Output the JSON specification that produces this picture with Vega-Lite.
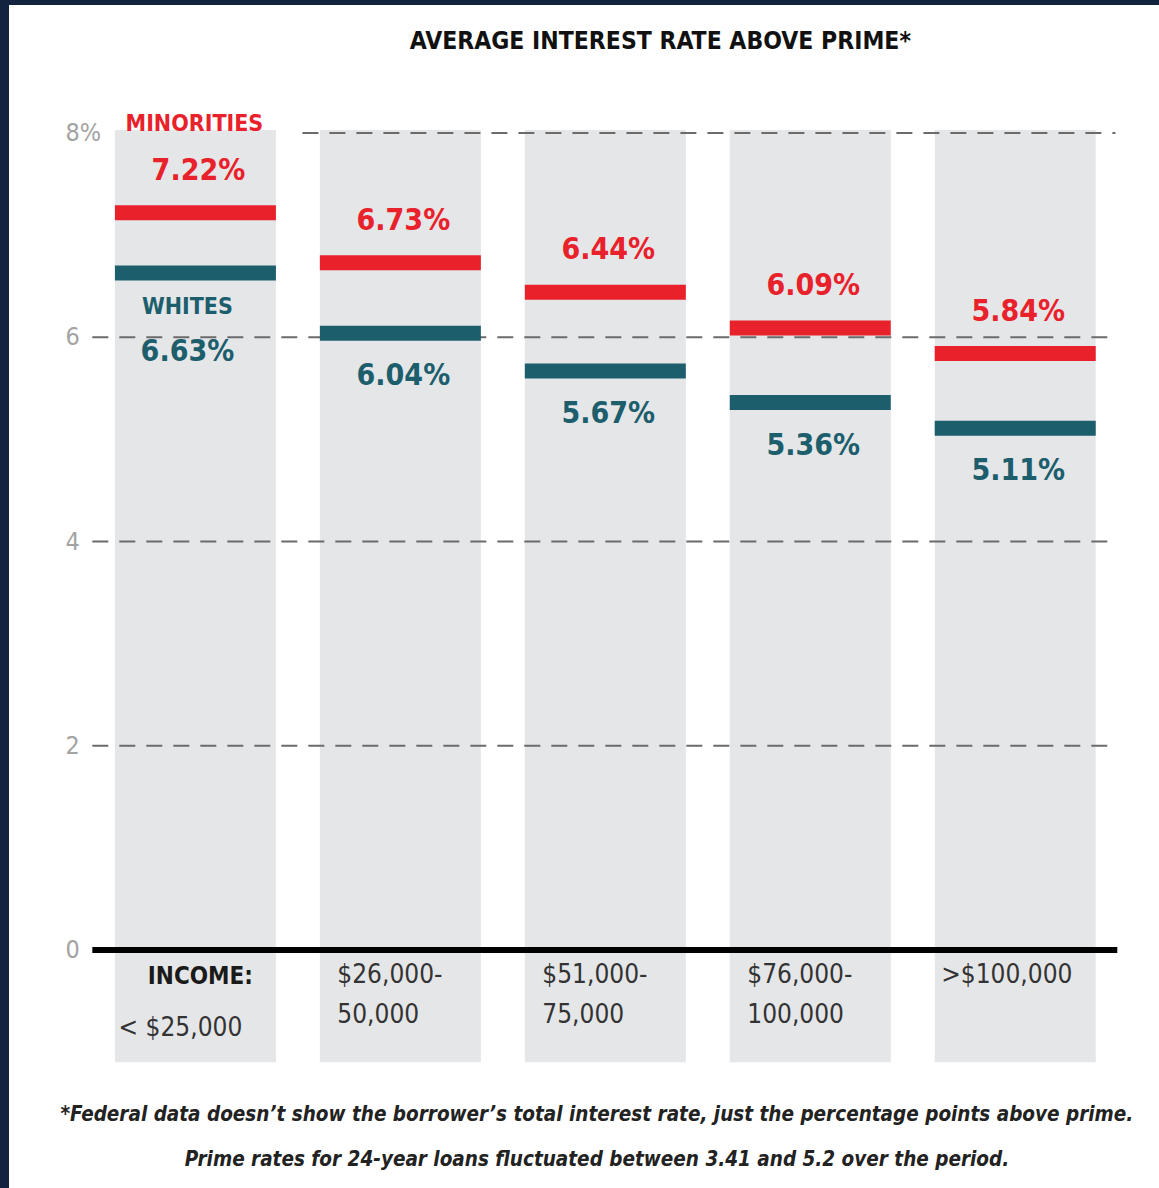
{
  "$schema": "https://vega.github.io/schema/vega-lite/v6.json",
  "width": 1150,
  "height": 1183,
  "autosize": {"type": "none"},
  "padding": {"left": 9, "top": 5, "right": 0, "bottom": 0},
  "background": "#13233f",
  "config": {"view": {"fill": "#ffffff", "stroke": null}, "font": "DejaVu Sans Condensed"},
  "datasets": {
    "rates": [
      {"income": "< $25,000", "idx": 1, "minorities": 7.22, "whites": 6.63, "minLabel": "7.22%", "whiteLabel": "6.63%"},
      {"income": "$26,000-\n50,000", "idx": 2, "minorities": 6.73, "whites": 6.04, "minLabel": "6.73%", "whiteLabel": "6.04%"},
      {"income": "$51,000-\n75,000", "idx": 3, "minorities": 6.44, "whites": 5.67, "minLabel": "6.44%", "whiteLabel": "5.67%"},
      {"income": "$76,000-\n100,000", "idx": 4, "minorities": 6.09, "whites": 5.36, "minLabel": "6.09%", "whiteLabel": "5.36%"},
      {"income": ">$100,000", "idx": 5, "minorities": 5.84, "whites": 5.11, "minLabel": "5.84%", "whiteLabel": "5.11%"}
    ],
    "grid": [{"v": 2}, {"v": 4}, {"v": 6}],
    "yticks": [{"v": 0, "label": "0"}, {"v": 2, "label": "2"}, {"v": 4, "label": "4"}, {"v": 6, "label": "6"}, {"v": 8, "label": "8%"}]
  },
  "layer": [
    {
      "data": {"name": "rates"},
      "mark": {"type": "bar", "width": 161, "color": "#e5e6e8"},
      "encoding": {
        "x": {"field": "idx", "type": "quantitative", "scale": {"domain": [0.11487, 5.6771], "nice": false, "zero": false}, "axis": null},
        "y": {"datum": 8.03, "type": "quantitative", "scale": {"domain": [-2.3305, 9.2534], "nice": false, "zero": false}, "axis": null},
        "y2": {"datum": -1.1}
      }
    },
    {
      "data": {"name": "grid"},
      "mark": {"type": "rule", "color": "#6b6b6b", "strokeWidth": 2, "strokeDash": [16, 11]},
      "encoding": {
        "y": {"field": "v", "type": "quantitative", "axis": null},
        "x": {"datum": 0.497, "type": "quantitative", "axis": null},
        "x2": {"datum": 5.489}
      }
    },
    {
      "data": {"values": [{}]},
      "mark": {"type": "rule", "color": "#6b6b6b", "strokeWidth": 2, "strokeDash": [16, 11]},
      "encoding": {
        "y": {"datum": 8, "type": "quantitative", "axis": null},
        "x": {"datum": 1.522, "type": "quantitative", "axis": null},
        "x2": {"datum": 5.489}
      }
    },
    {
      "data": {"values": [{}]},
      "mark": {"type": "rule", "color": "#000000", "strokeWidth": 6},
      "encoding": {
        "y": {"datum": 0, "type": "quantitative", "axis": null},
        "x": {"datum": 0.497, "type": "quantitative", "axis": null},
        "x2": {"datum": 5.498}
      }
    },
    {
      "data": {"name": "yticks"},
      "mark": {"type": "text", "fontSize": 25, "color": "#a3a3a3", "align": "left", "baseline": "middle"},
      "encoding": {
        "x": {"datum": 0.3664, "type": "quantitative", "axis": null},
        "y": {"field": "v", "type": "quantitative", "axis": null},
        "text": {"field": "label"}
      }
    },
    {
      "data": {"name": "rates"},
      "mark": {"type": "tick", "orient": "horizontal", "size": 161, "thickness": 15, "color": "#e8212b", "opacity": 1},
      "encoding": {
        "x": {"field": "idx", "type": "quantitative", "axis": null},
        "y": {"field": "minorities", "type": "quantitative", "axis": null}
      }
    },
    {
      "data": {"name": "rates"},
      "mark": {"type": "tick", "orient": "horizontal", "size": 161, "thickness": 15, "color": "#1d5e6d", "opacity": 1},
      "encoding": {
        "x": {"field": "idx", "type": "quantitative", "axis": null},
        "y": {"field": "whites", "type": "quantitative", "axis": null}
      }
    },
    {
      "data": {"name": "rates"},
      "mark": {"type": "text", "fontSize": 30, "fontWeight": "bold", "color": "#e8212b", "dy": -42, "dx": 3, "baseline": "middle"},
      "encoding": {
        "x": {"field": "idx", "type": "quantitative", "axis": null},
        "y": {"field": "minorities", "type": "quantitative", "axis": null},
        "text": {"field": "minLabel"}
      }
    },
    {
      "data": {"name": "rates"},
      "transform": [{"filter": "datum.idx > 1"}],
      "mark": {"type": "text", "fontSize": 30, "fontWeight": "bold", "color": "#1d5e6d", "dy": 43, "dx": 3, "baseline": "middle"},
      "encoding": {
        "x": {"field": "idx", "type": "quantitative", "axis": null},
        "y": {"field": "whites", "type": "quantitative", "axis": null},
        "text": {"field": "whiteLabel"}
      }
    },
    {
      "data": {"name": "rates"},
      "transform": [{"filter": "datum.idx == 1"}],
      "mark": {"type": "text", "fontSize": 30, "fontWeight": "bold", "color": "#1d5e6d", "dy": 79, "dx": -8, "baseline": "middle"},
      "encoding": {
        "x": {"field": "idx", "type": "quantitative", "axis": null},
        "y": {"field": "whites", "type": "quantitative", "axis": null},
        "text": {"field": "whiteLabel"}
      }
    },
    {
      "data": {"name": "rates"},
      "transform": [{"filter": "datum.idx == 1"}],
      "mark": {"type": "text", "fontSize": 23, "fontWeight": "bold", "color": "#e8212b", "dy": -89, "dx": -1, "baseline": "middle"},
      "encoding": {
        "x": {"field": "idx", "type": "quantitative", "axis": null},
        "y": {"field": "minorities", "type": "quantitative", "axis": null},
        "text": {"value": "MINORITIES"}
      }
    },
    {
      "data": {"name": "rates"},
      "transform": [{"filter": "datum.idx == 1"}],
      "mark": {"type": "text", "fontSize": 23, "fontWeight": "bold", "color": "#1d5e6d", "dy": 34, "dx": -8, "baseline": "middle"},
      "encoding": {
        "x": {"field": "idx", "type": "quantitative", "axis": null},
        "y": {"field": "whites", "type": "quantitative", "axis": null},
        "text": {"value": "WHITES"}
      }
    },
    {
      "data": {"name": "rates"},
      "transform": [{"filter": "datum.idx > 1 && datum.idx < 5"}],
      "mark": {"type": "text", "fontSize": 26, "color": "#333333", "align": "left", "dx": -63, "baseline": "middle", "lineBreak": "\n", "lineHeight": 40},
      "encoding": {
        "x": {"field": "idx", "type": "quantitative", "axis": null},
        "y": {"datum": -0.245, "type": "quantitative", "axis": null},
        "text": {"field": "income"}
      }
    },
    {
      "data": {"name": "rates"},
      "transform": [{"filter": "datum.idx == 5"}],
      "mark": {"type": "text", "fontSize": 26, "color": "#333333", "align": "left", "dx": -74, "baseline": "middle"},
      "encoding": {
        "x": {"field": "idx", "type": "quantitative", "axis": null},
        "y": {"datum": -0.245, "type": "quantitative", "axis": null},
        "text": {"field": "income"}
      }
    },
    {
      "data": {"name": "rates"},
      "transform": [{"filter": "datum.idx == 1"}],
      "mark": {"type": "text", "fontSize": 24, "fontWeight": "bold", "color": "#1a1a1a", "dx": 5, "baseline": "middle"},
      "encoding": {
        "x": {"field": "idx", "type": "quantitative", "axis": null},
        "y": {"datum": -0.264, "type": "quantitative", "axis": null},
        "text": {"value": "INCOME:"}
      }
    },
    {
      "data": {"name": "rates"},
      "transform": [{"filter": "datum.idx == 1"}],
      "mark": {"type": "text", "fontSize": 26, "color": "#333333", "dx": -15, "baseline": "middle"},
      "encoding": {
        "x": {"field": "idx", "type": "quantitative", "axis": null},
        "y": {"datum": -0.764, "type": "quantitative", "axis": null},
        "text": {"field": "income"}
      }
    },
    {
      "data": {"values": [{}]},
      "mark": {"type": "text", "fontSize": 24.5, "fontWeight": "bold", "color": "#111111", "baseline": "middle"},
      "encoding": {
        "x": {"datum": 3.2684, "type": "quantitative", "axis": null},
        "y": {"datum": 8.891, "type": "quantitative", "axis": null},
        "text": {"value": "AVERAGE INTEREST RATE ABOVE PRIME*"}
      }
    },
    {
      "data": {"values": [{}]},
      "mark": {"type": "text", "fontSize": 20.5, "fontWeight": "bold", "fontStyle": "italic", "color": "#222222", "baseline": "middle"},
      "encoding": {
        "x": {"datum": 2.959, "type": "quantitative", "axis": null},
        "y": {"datum": -1.616, "type": "quantitative", "axis": null},
        "text": {"value": "*Federal data doesn’t show the borrower’s total interest rate, just the percentage points above prime."}
      }
    },
    {
      "data": {"values": [{}]},
      "mark": {"type": "text", "fontSize": 20.5, "fontWeight": "bold", "fontStyle": "italic", "color": "#222222", "baseline": "middle"},
      "encoding": {
        "x": {"datum": 2.959, "type": "quantitative", "axis": null},
        "y": {"datum": -2.056, "type": "quantitative", "axis": null},
        "text": {"value": "Prime rates for 24-year loans fluctuated between 3.41 and 5.2 over the period."}
      }
    }
  ]
}
